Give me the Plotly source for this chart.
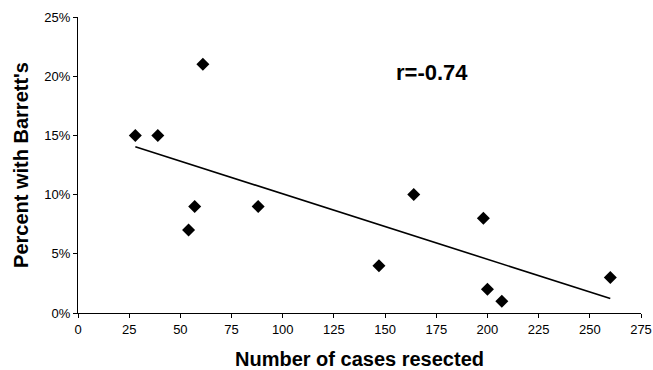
import numpy as np
import plotly.graph_objects as go

cases = [28, 39, 61, 54, 57, 88, 147, 164, 198, 200, 207, 260]
percent_barretts = [15, 15, 21, 7, 9, 9, 4, 10, 8, 2, 1, 3]
x_ticks = [0, 25, 50, 75, 100, 125, 150, 175, 200, 225, 250, 275]
y_ticks = [0, 5, 10, 15, 20, 25]
y_tick_labels = ["0%", "5%", "10%", "15%", "20%", "25%"]
r_label = "r=-0.74"

slope, intercept = np.polyfit(cases, percent_barretts, 1)
fit_x = [min(cases), max(cases)]
fit_y = [slope * v + intercept for v in fit_x]

fig = go.Figure()
fig.add_trace(go.Scatter(x=fit_x, y=fit_y, mode="lines",
                         line=dict(color="black", width=1.6), showlegend=False))
fig.add_trace(go.Scatter(x=cases, y=percent_barretts, mode="markers",
                         marker=dict(symbol="diamond", size=10, color="black"),
                         showlegend=False))
fig.add_annotation(x=173, y=20.3, text="<b>" + r_label + "</b>", showarrow=False,
                   font=dict(size=22, color="black", family="Liberation Sans, Arial"))

fig.update_layout(
    width=653, height=370,
    margin=dict(l=78, r=12, t=17, b=57),
    paper_bgcolor="white", plot_bgcolor="white",
    font=dict(family="Liberation Sans, Arial", color="black", size=13),
    xaxis=dict(range=[0, 275], tickvals=x_ticks, showline=True, linecolor="black",
               linewidth=1, ticks="outside", ticklen=4, tickcolor="black",
               showgrid=False, zeroline=False, automargin=False,
               title=dict(text="<b>Number of cases resected</b>", font=dict(size=20), standoff=20)),
    yaxis=dict(range=[0, 25], tickvals=y_ticks, ticktext=y_tick_labels, showline=True,
               linecolor="black", linewidth=1, ticks="outside", ticklen=4, tickcolor="black",
               showgrid=False, zeroline=False, automargin=False,
               title=dict(text="<b>Percent with Barrett's</b>", font=dict(size=20), standoff=10)),
)
fig.write_html("out.html", config={"displayModeBar": False},
               post_script="document.body.style.margin='0';document.body.style.overflow='hidden';")
